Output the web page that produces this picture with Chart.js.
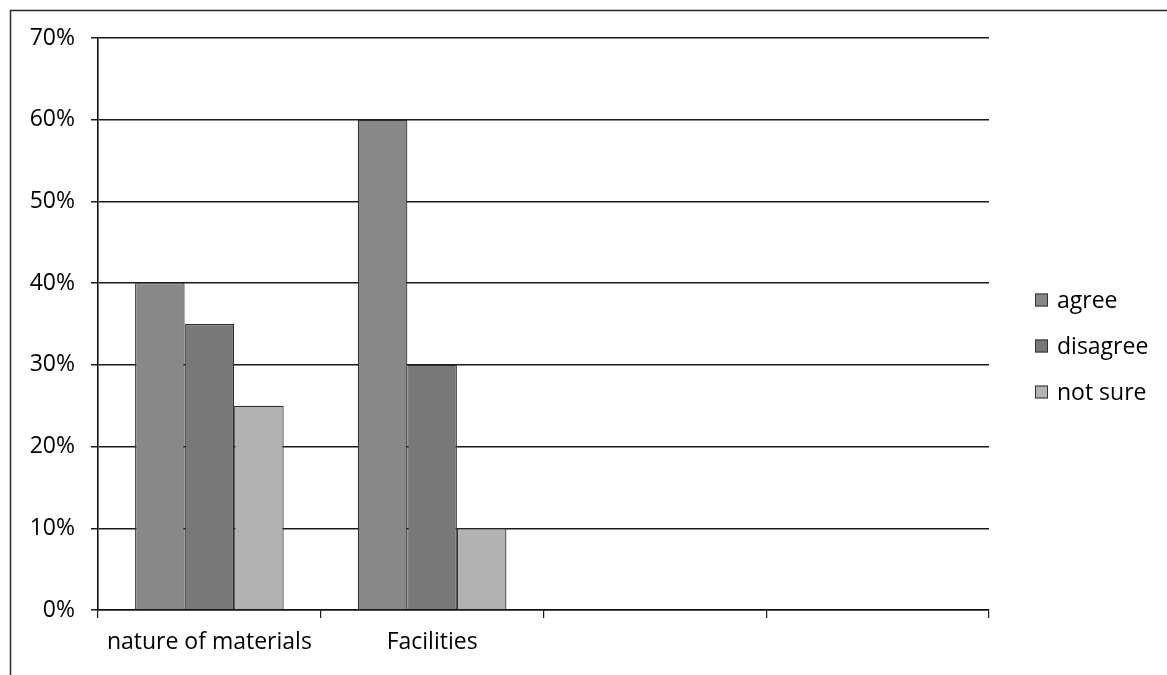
<!DOCTYPE html>
<html>
<head>
<meta charset="utf-8">
<script src="https://cdn.jsdelivr.net/npm/chart.js@4/dist/chart.umd.min.js"></script>
<style>
  html, body { margin: 0; padding: 0; background: #ffffff; }
  #wrap { width: 1167px; height: 675px; }
</style>
</head>
<body>
<div id="wrap"><canvas id="chart" width="1167" height="675"></canvas></div>
<script>
// Survey responses per aspect (percent of respondents)
const categories = ['nature of materials', 'Facilities', '', ''];
const agree    = [40, 60, null, null];
const disagree = [35, 30, null, null];
const notSure  = [25, 10, null, null];
const seriesNames = ['agree', 'disagree', 'not sure'];
const yTicks = [0, 10, 20, 30, 40, 50, 60, 70];

const FONT = '"Open Sans", "Liberation Sans", sans-serif';
const FONT_SIZE = 23;
const INK = '#000000';

// Frame around the whole chart object
const framePlugin = {
  id: 'frame',
  beforeDraw(chart) {
    const ctx = chart.ctx;
    ctx.save();
    ctx.fillStyle = '#ffffff';
    ctx.fillRect(0, 0, chart.width, chart.height);
    ctx.strokeStyle = '#2a2a2a';
    ctx.lineWidth = 1.5;
    ctx.strokeRect(10.5, 10.5, chart.width + 20, chart.height + 20);
    ctx.restore();
  }
};

// Legend to the right of the plot, stacked vertically
const sideLegend = {
  id: 'sideLegend',
  afterDraw(chart, args, opts) {
    const ctx = chart.ctx;
    const ds = chart.data.datasets;
    const area = chart.chartArea;
    const rowH = opts.rowHeight;
    const cy = (area.top + area.bottom) / 2 + opts.shiftY;
    const y0 = cy - rowH * (ds.length - 1) / 2;
    ctx.save();
    ctx.font = FONT_SIZE + 'px ' + FONT;
    ctx.textBaseline = 'middle';
    ctx.textAlign = 'left';
    ds.forEach((d, i) => {
      const y = y0 + i * rowH;
      const s = opts.box;
      ctx.fillStyle = d.backgroundColor;
      ctx.fillRect(opts.x, y - s / 2, s, s);
      ctx.strokeStyle = '#333333';
      ctx.lineWidth = 1;
      ctx.strokeRect(opts.x + 0.5, y - s / 2 + 0.5, s - 1, s - 1);
      ctx.fillStyle = INK;
      ctx.fillText(d.label, opts.x + opts.textGap, y + 1);
    });
    ctx.restore();
  }
};

const colors = ['#888888', '#787878', '#b2b2b2'];
const values = [agree, disagree, notSure];

new Chart(document.getElementById('chart'), {
  type: 'bar',
  data: {
    labels: categories,
    datasets: seriesNames.map((name, i) => ({
      label: name,
      data: values[i],
      backgroundColor: colors[i],
      borderColor: '#2e2e2e',
      borderWidth: 1.2,
      categoryPercentage: 0.667,
      barPercentage: 1.0
    }))
  },
  options: {
    responsive: false,
    devicePixelRatio: 1,
    animation: false,
    layout: { padding: { left: 10, top: 38, right: 178, bottom: 10 } },
    plugins: {
      legend: { display: false },
      tooltip: { enabled: false },
      sideLegend: { x: 1035, textGap: 22, box: 13, rowHeight: 46, shiftY: 22 }
    },
    scales: {
      x: {
        offset: true,
        grid: {
          offset: true,
          drawOnChartArea: false,
          drawTicks: true,
          tickLength: 8,
          color: '#1a1a1a',
          lineWidth: 1.2
        },
        border: { display: true, color: '#111111', width: 1.6 },
        ticks: {
          color: INK,
          font: { family: FONT, size: FONT_SIZE },
          padding: 11,
          maxRotation: 0,
          autoSkip: false
        },
        afterFit(scale) { scale.height = 55; }
      },
      y: {
        min: 0,
        max: 70,
        afterBuildTicks(scale) { scale.ticks = yTicks.map(v => ({ value: v })); },
        grid: {
          color: '#1a1a1a',
          lineWidth: 1.5,
          drawTicks: true,
          tickLength: 7
        },
        border: { display: true, color: '#111111', width: 1.6 },
        ticks: {
          color: INK,
          font: { family: FONT, size: FONT_SIZE },
          padding: 16,
          callback: v => v + '%'
        },
        afterFit(scale) { scale.width = 88; }
      }
    }
  },
  plugins: [framePlugin, sideLegend]
});
</script>
</body>
</html>
